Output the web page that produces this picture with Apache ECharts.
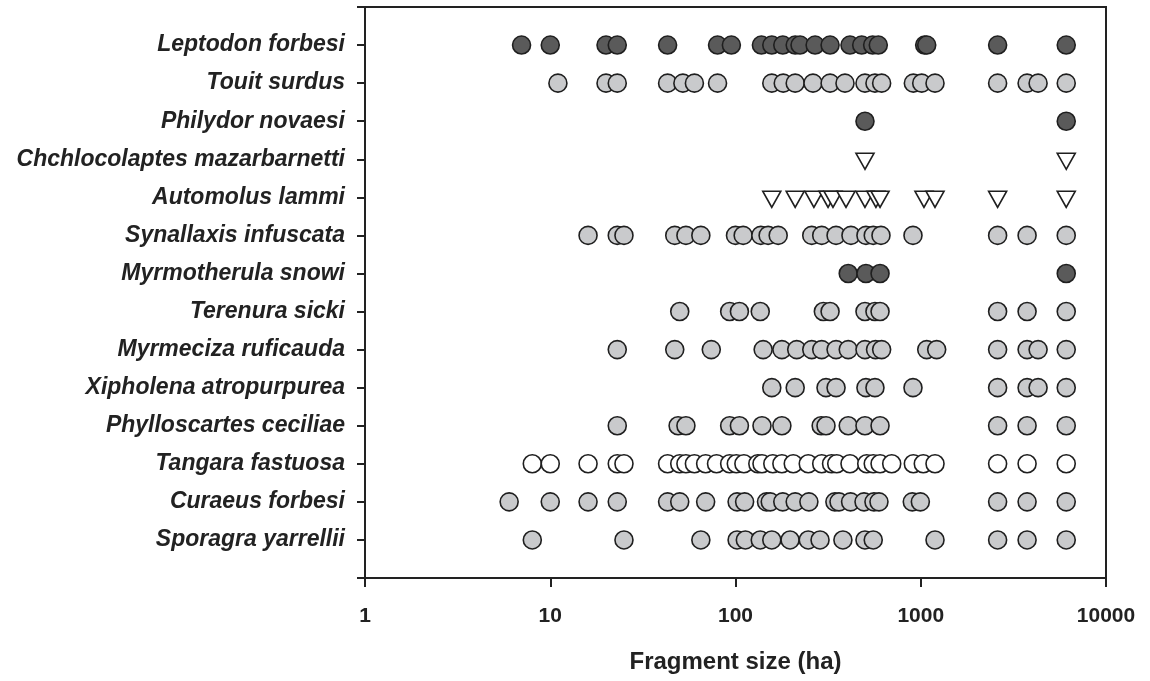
<!DOCTYPE html>
<html>
<head>
<meta charset="utf-8">
<script src="https://cdn.jsdelivr.net/npm/echarts@6/dist/echarts.min.js"></script>
<style>
  html, body { margin: 0; padding: 0; background: #fff; }
  #chart { width: 1150px; height: 681px; }
</style>
</head>
<body>
<div id="chart"></div>
<script>
// Species, top to bottom
const species = [
  'Leptodon forbesi', 'Touit surdus', 'Philydor novaesi', 'Chchlocolaptes mazarbarnetti',
  'Automolus lammi', 'Synallaxis infuscata', 'Myrmotherula snowi', 'Terenura sicki',
  'Myrmeciza ruficauda', 'Xipholena atropurpurea', 'Phylloscartes ceciliae',
  'Tangara fastuosa', 'Curaeus forbesi', 'Sporagra yarrellii'
];
// Marker kind per species: dark / light / white circle, or open triangle
const kinds = ['dark','light','dark','tri','tri','light','dark','light','light','light','light','white','light','light'];

// Fragment sizes (ha) where each species was recorded
const leptodon = [7, 10, 20, 23, 43, 80, 95, 138, 157, 180, 210, 223, 269, 324, 415, 480, 550, 590, 1050, 1077, 2600, 6100];
const touit = [11, 20, 23, 43, 52, 60, 80, 157, 181, 210, 262, 324, 390, 500, 566, 615, 912, 1012, 1194, 2600, 3750, 4300, 6100];
const philydor = [500, 6100];
const chchlocolaptes = [500, 6100];
const automolus = [157, 210, 265, 316, 336, 395, 500, 573, 603, 1041, 1194, 2600, 6100];
const synallaxis = [16, 23, 25, 47, 54, 65, 100, 110, 137, 150, 170, 258, 292, 349, 420, 506, 554, 610, 908, 2600, 3750, 6100];
const myrmotherula = [406, 506, 603, 6100];
const terenura = [50, 93, 105, 136, 298, 324, 500, 566, 603, 2600, 3750, 6100];
const myrmeciza = [23, 47, 74, 141, 178, 214, 258, 292, 349, 406, 500, 570, 615, 1077, 1219, 2600, 3750, 4300, 6100];
const xipholena = [157, 210, 308, 349, 506, 566, 908, 2600, 3750, 4300, 6100];
const phylloscartes = [23, 49, 54, 93, 105, 139, 178, 290, 308, 406, 500, 603, 2600, 3750, 6100];
const tangara = [8, 10, 16, 23, 25, 43, 50, 54, 60, 69, 79, 93, 101, 111, 132, 139, 159, 178, 205, 247, 292, 330, 352, 415, 511, 554, 603, 697, 912, 1032, 1194, 2600, 3750, 6100];
const curaeus = [6, 10, 16, 23, 43, 50, 69, 102, 112, 147, 154, 180, 210, 249, 344, 362, 418, 494, 559, 595, 900, 995, 2600, 3750, 6100];
const sporagra = [8, 25, 65, 102, 113, 136, 157, 197, 247, 286, 380, 500, 554, 1194, 2600, 3750, 6100];

const xTickLabels = ['1', '10', '100', '1000', '10000'];
const xTitle = 'Fragment size (ha)';

const rows = [leptodon, touit, philydor, chchlocolaptes, automolus, synallaxis, myrmotherula,
  terenura, myrmeciza, xipholena, phylloscartes, tangara, curaeus, sporagra];

const FONT = '"Liberation Sans", Arial, Helvetica, sans-serif';
const INK = '#1f1f1f';
const fills = { dark: '#5a5a5a', light: '#c9cacc', white: '#ffffff', tri: '#ffffff' };

const series = rows.map((vals, i) => {
  const k = kinds[i];
  const isTri = k === 'tri';
  return {
    type: 'scatter',
    name: species[i],
    data: vals.map(v => [v, i + 1]),
    symbol: isTri ? 'triangle' : 'circle',
    symbolRotate: isTri ? 180 : 0,
    symbolSize: isTri ? [18, 16] : 18,
    symbolOffset: isTri ? [0, 2] : [0, 0],
    itemStyle: { color: fills[k], borderColor: INK, borderWidth: 1.6, opacity: 1 },
    emphasis: { disabled: true },
    silent: true,
    animation: false
  };
});

const chart = echarts.init(document.getElementById('chart'), null, { renderer: 'canvas' });
chart.setOption({
  backgroundColor: '#ffffff',
  animation: false,
  grid: { left: 365, right: 44, top: 7, bottom: 103, show: true, borderColor: '#222', borderWidth: 2, backgroundColor: 'transparent' },
  xAxis: {
    type: 'log', logBase: 10, min: 1, max: 10000,
    name: xTitle, nameLocation: 'middle', nameGap: 72,
    nameTextStyle: { fontFamily: FONT, fontSize: 24, fontWeight: 'bold', color: '#222' },
    axisLine: { show: true, onZero: false, lineStyle: { color: '#222', width: 2 } },
    axisTick: { show: true, length: 9, inside: false, lineStyle: { color: '#222', width: 2 } },
    minorTick: { show: false },
    splitLine: { show: false },
    axisLabel: {
      margin: 28, fontFamily: FONT, fontSize: 21, fontWeight: 'bold', color: '#222',
      formatter: v => xTickLabels[Math.round(Math.log10(v))] || ''
    }
  },
  yAxis: {
    type: 'value', min: 0, max: 15, interval: 1, inverse: true,
    axisLine: { show: true, onZero: false, lineStyle: { color: '#222', width: 2 } },
    axisTick: { show: true, length: 8, inside: false, lineStyle: { color: '#222', width: 2 } },
    splitLine: { show: false },
    axisLabel: {
      margin: 20, fontFamily: FONT, fontSize: 23, fontWeight: 'bold', fontStyle: 'italic', color: '#222',
      formatter: v => species[v - 1] || ''
    }
  },
  series: series
});
</script>
</body>
</html>
